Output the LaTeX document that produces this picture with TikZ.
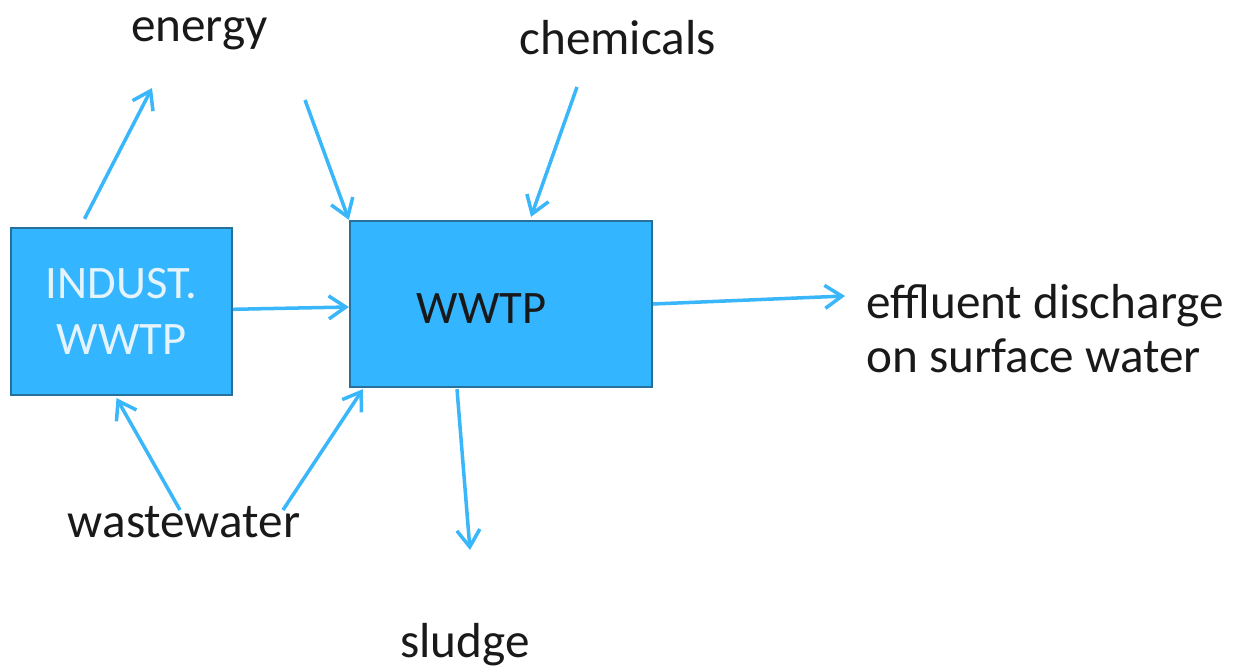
\documentclass[tikz,border=0pt]{standalone}
\usepackage{fontspec}
\setmainfont{Carlito}
\usetikzlibrary{arrows.meta,calc}
\definecolor{plantblue}{HTML}{33B5FF}
\definecolor{plantedge}{HTML}{26709A}
\definecolor{plantwhite}{HTML}{E4F3FC}
\definecolor{flowblue}{HTML}{3AB6FA}

\begin{document}
\begin{tikzpicture}[x=0.02cm,y=-0.02cm,
	flow/.style={draw=flowblue, line width=2pt, -{Straight Barb[length=3.4mm,width=4.6mm,line width=2pt]}},
	plant/.style={draw=plantedge, line width=1.3pt, fill=plantblue, inner sep=0pt},
	tag/.style={anchor=base, font=\fontsize{28}{32}\selectfont, text=black!90, inner sep=0pt}]
	\useasboundingbox (0,0) rectangle (1233,669);
	% the two plants
	\node[plant, minimum width=4.42cm, minimum height=3.34cm, text=plantwhite, align=center,
		font=\fontsize{26.5}{31.5}\selectfont] (indust) at (121.5,311.5) {INDUST.\\WWTP};
	\node[plant, minimum width=6.04cm, minimum height=3.32cm] (wwtp) at (501,304) {};
	\node[tag, font=\fontsize{26.5}{31.5}\selectfont] (wwtplbl) at (481.5,323) {WWTP};
	% labels
	\node[tag] (energy) at (199.5,42) {energy};
	\node[tag] (chem) at (617.5,55) {chemicals};
	\node[tag] (waste) at (184,537) {wastewater};
	\node[tag] (sludge) at (465,657) {sludge};
	\node[tag, anchor=north west, align=left, font=\fontsize{28}{31}\selectfont] (effl) at (866,284) {effluent discharge\\on surface water};
	% free ends
	\coordinate (enout) at (152,88);
	\coordinate (enin) at (305,100);
	\coordinate (chin) at (577,87);
	\coordinate (effin) at (845,296);
	\coordinate (wwone) at (180,510);
	\coordinate (wwtwo) at (283,510);
	\coordinate (slout) at (470,550);
	% flows
	\draw[flow] ($(indust.north)+(-37,-8)$) -- (enout);
	\draw[flow] (enin) -- (wwtp.north west);
	\draw[flow] (chin) -- ($(wwtp.north)+(30,-3)$);
	\draw[flow] (indust) -- (wwtp);
	\draw[flow] (wwtp.east) -- (effin);
	\draw[flow] (wwone) -- ($(indust.south)+(-5,2)$);
	\draw[flow] (wwtwo) -- ($(wwtp.south west)+(14,1)$);
	\draw[flow] ($(wwtp.south)+(-44,1)$) -- (slout);
\end{tikzpicture}
\end{document}
